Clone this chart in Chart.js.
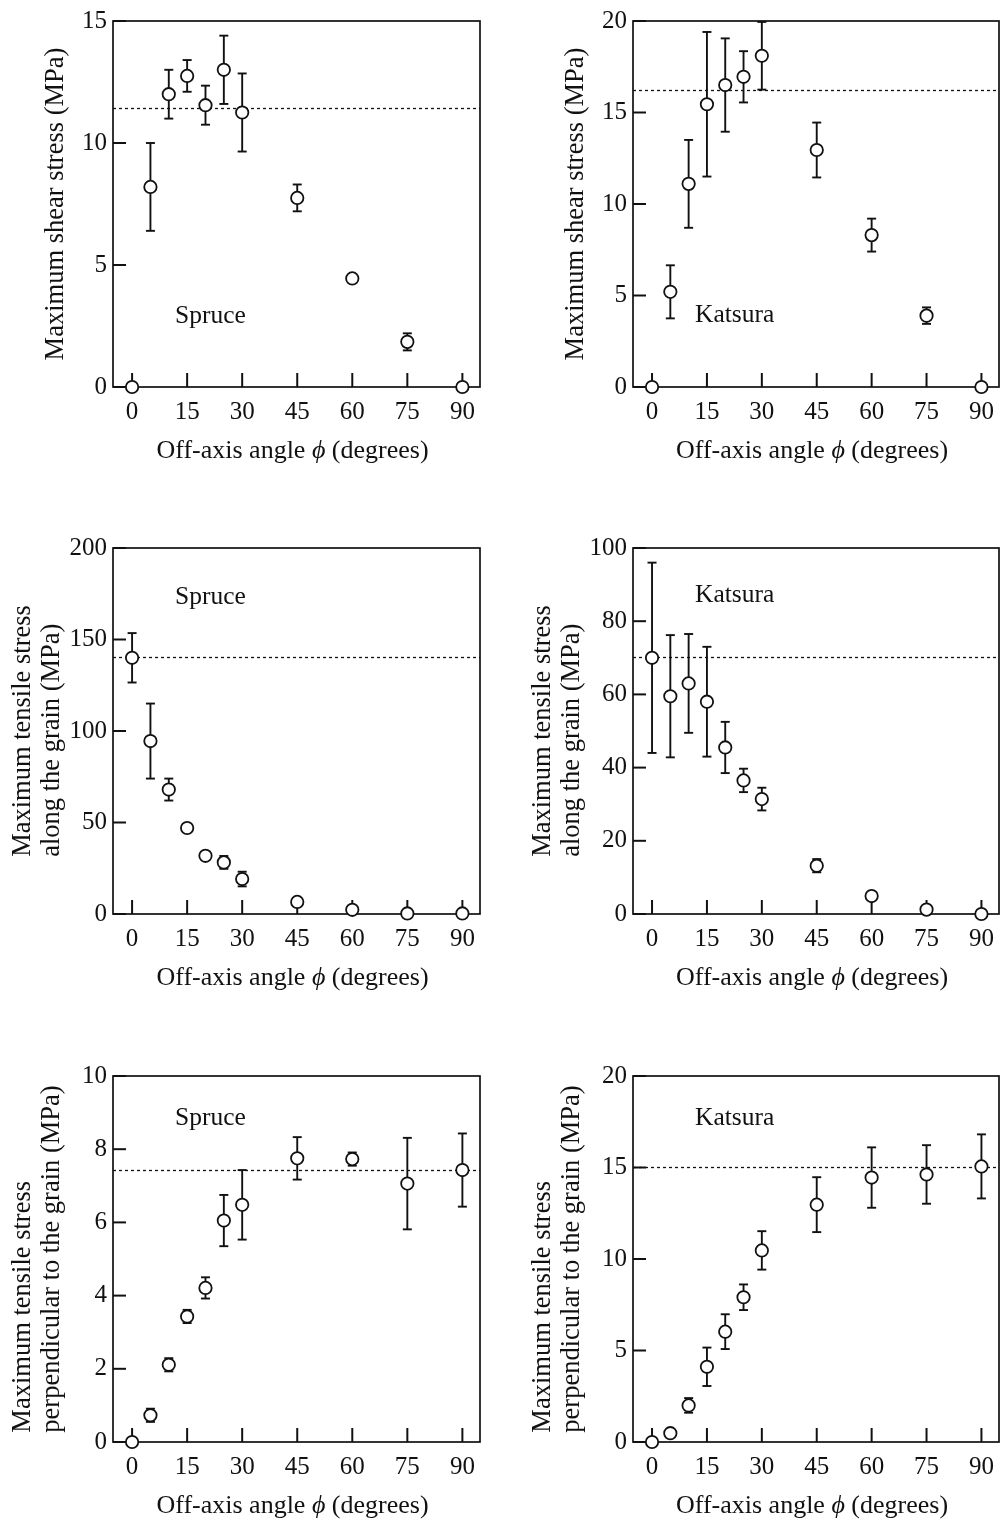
<!DOCTYPE html>
<html>
<head>
<meta charset="utf-8">
<script src="https://cdn.jsdelivr.net/npm/chart.js@4.4.0/dist/chart.umd.min.js"></script>
<style>
  body { margin: 0; background: #fff; }
  .panel { position: absolute; }
</style>
</head>
<body>
<div class="panel" style="left:0;top:0"><canvas id="c1" width="490" height="471"></canvas></div>
<div class="panel" style="left:520px;top:0"><canvas id="c2" width="488" height="471"></canvas></div>
<div class="panel" style="left:0;top:527px"><canvas id="c3" width="490" height="471"></canvas></div>
<div class="panel" style="left:520px;top:527px"><canvas id="c4" width="488" height="471"></canvas></div>
<div class="panel" style="left:0;top:1055px"><canvas id="c5" width="490" height="471"></canvas></div>
<div class="panel" style="left:520px;top:1055px"><canvas id="c6" width="488" height="471"></canvas></div>
<script>
// off-axis angles (degrees)
const angles = [0, 5, 10, 15, 20, 25, 30, 45, 60, 75, 90];
const xTicks = [0, 15, 30, 45, 60, 75, 90];

// maximum shear stress (MPa)
const spruceShear    = [0, 8.2, 12.0, 12.75, 11.55, 13.0, 11.25, 7.75, 4.45, 1.85, 0];
const spruceShearErr = [0, 1.8, 1.0, 0.65, 0.8, 1.4, 1.6, 0.55, 0, 0.35, 0];
const katsuraShear    = [0, 5.2, 11.1, 15.45, 16.5, 16.95, 18.1, 12.95, 8.3, 3.9, 0];
const katsuraShearErr = [0, 1.45, 2.4, 3.95, 2.55, 1.4, 1.85, 1.5, 0.9, 0.45, 0];

// maximum tensile stress along the grain (MPa)
const spruceAlong    = [140, 94.5, 68, 47, 31.8, 28.2, 19.1, 6.6, 2.3, 0.3, 0.3];
const spruceAlongErr = [13.5, 20.5, 6, 0, 0, 3.5, 4, 0, 0, 0, 0];
const katsuraAlong    = [70, 59.5, 63, 58, 45.5, 36.5, 31.4, 13.2, 4.9, 1.2, 0];
const katsuraAlongErr = [26, 16.7, 13.5, 15, 7, 3.2, 3.1, 1.8, 0, 0, 0];

// maximum tensile stress perpendicular to the grain (MPa)
const spruceCross    = [0, 0.73, 2.11, 3.43, 4.21, 6.05, 6.48, 7.75, 7.73, 7.06, 7.43];
const spruceCrossErr = [0, 0.18, 0.18, 0.18, 0.29, 0.7, 0.95, 0.58, 0.18, 1.25, 1.0];
const katsuraCross    = [0, 0.48, 2.0, 4.11, 6.03, 7.91, 10.47, 12.97, 14.45, 14.62, 15.06];
const katsuraCrossErr = [0, 0, 0.4, 1.05, 0.95, 0.7, 1.05, 1.5, 1.65, 1.6, 1.75];

// dotted reference levels
const refLevels = [11.45, 16.22, 140.2, 70.1, 7.42, 15.03];

// y tick labels per panel
const shearSpruceTicks  = [0, 5, 10, 15];
const shearKatsuraTicks = [0, 5, 10, 15, 20];
const alongSpruceTicks  = [0, 50, 100, 150, 200];
const alongKatsuraTicks = [0, 20, 40, 60, 80, 100];
const crossSpruceTicks  = [0, 2, 4, 6, 8, 10];
const crossKatsuraTicks = [0, 5, 10, 15, 20];

const ink = '#111111';
const serif = '"Liberation Serif", "Times New Roman", serif';

const panels = [
    { id: 'c1', values: spruceShear, errors: spruceShearErr, yTicks: shearSpruceTicks, ref: refLevels[0],
      name: 'Spruce', nameY: 2.9, title: ['Maximum shear stress (MPa)'], right: 10 },
    { id: 'c2', values: katsuraShear, errors: katsuraShearErr, yTicks: shearKatsuraTicks, ref: refLevels[1],
      name: 'Katsura', nameY: 3.9, title: ['Maximum shear stress (MPa)'], right: 9 },
    { id: 'c3', values: spruceAlong, errors: spruceAlongErr, yTicks: alongSpruceTicks, ref: refLevels[2],
      name: 'Spruce', nameY: 173, title: ['Maximum tensile stress', 'along the grain (MPa)'], right: 10 },
    { id: 'c4', values: katsuraAlong, errors: katsuraAlongErr, yTicks: alongKatsuraTicks, ref: refLevels[3],
      name: 'Katsura', nameY: 87, title: ['Maximum tensile stress', 'along the grain (MPa)'], right: 9 },
    { id: 'c5', values: spruceCross, errors: spruceCrossErr, yTicks: crossSpruceTicks, ref: refLevels[4],
      name: 'Spruce', nameY: 8.85, title: ['Maximum tensile stress', 'perpendicular to the grain (MPa)'], right: 10 },
    { id: 'c6', values: katsuraCross, errors: katsuraCrossErr, yTicks: crossKatsuraTicks, ref: refLevels[5],
      name: 'Katsura', nameY: 17.7, title: ['Maximum tensile stress', 'perpendicular to the grain (MPa)'], right: 9 }
];

function strokeLine(ctx, x1, y1, x2, y2) {
    ctx.beginPath();
    ctx.moveTo(x1, y1);
    ctx.lineTo(x2, y2);
    ctx.stroke();
}

const decor = {
    id: 'decor',
    beforeDatasetsDraw(chart) {
        const { ctx, chartArea: a, scales: { x, y } } = chart;
        const p = chart.options.plugins.decor.panel;
        ctx.save();
        ctx.strokeStyle = ink;
        ctx.lineWidth = 1.7;
        ctx.strokeRect(a.left, a.top, a.right - a.left, a.bottom - a.top);

        // reference level
        ctx.save();
        ctx.lineWidth = 1.3;
        ctx.setLineDash([3, 3]);
        const ry = Math.round(y.getPixelForValue(p.ref)) + 0.5;
        strokeLine(ctx, a.left, ry, a.right, ry);
        ctx.restore();

        // error bars
        ctx.lineWidth = 1.9;
        const meta = chart.getDatasetMeta(0);
        meta.data.forEach((pt, i) => {
            const err = p.errors[i];
            if (!err) return;
            const v = p.values[i];
            const top = y.getPixelForValue(v + err);
            const bot = y.getPixelForValue(Math.max(v - err, y.min));
            strokeLine(ctx, pt.x, top, pt.x, bot);
            strokeLine(ctx, pt.x - 4.5, top, pt.x + 4.5, top);
            if (v - err >= y.min) strokeLine(ctx, pt.x - 4.5, bot, pt.x + 4.5, bot);
        });

        // ticks point inward
        ctx.lineWidth = 2;
        const yt = Array.from(p.yTicks);
        for (let k = 0; k < yt.length; k++) {
            const py = y.getPixelForValue(yt[k]);
            strokeLine(ctx, a.left, py, a.left + 13, py);
        }
        for (let k = 0; k < xTicks.length; k++) {
            const px = x.getPixelForValue(xTicks[k]);
            strokeLine(ctx, px, a.bottom, px, a.bottom - 14);
        }

        // species name
        ctx.fillStyle = ink;
        ctx.font = `25.5px ${serif}`;
        ctx.textBaseline = 'middle';
        ctx.textAlign = 'left';
        ctx.fillText(p.name, a.left + 62, y.getPixelForValue(p.nameY));
        ctx.restore();
    },
    afterDraw(chart) {
        const { ctx, chartArea: a } = chart;
        const p = chart.options.plugins.decor.panel;
        ctx.save();
        ctx.fillStyle = ink;
        ctx.textBaseline = 'middle';

        // x title with italic phi
        const plain = `26px ${serif}`, ital = `italic 26px ${serif}`;
        const parts = [['Off-axis angle ', plain], ['\u03D5', ital], [' (degrees)', plain]];
        let total = 0;
        parts.forEach(([s, f]) => { ctx.font = f; total += ctx.measureText(s).width; });
        let tx = (a.left + a.right) / 2 - 4 - total / 2;
        const ty = a.bottom + 64;
        ctx.textAlign = 'left';
        parts.forEach(([s, f]) => {
            ctx.font = f;
            ctx.fillText(s, tx, ty);
            tx += ctx.measureText(s).width;
        });

        // y title, rotated, lines start-aligned
        ctx.font = `26.5px ${serif}`;
        const widest = Math.max(...p.title.map(s => ctx.measureText(s).width));
        const cx = p.title.length > 1 ? a.left - 90 : a.left - 57;
        const cy = (a.top + a.bottom) / 2;
        ctx.translate(cx, cy);
        ctx.rotate(-Math.PI / 2);
        p.title.forEach((s, i) => ctx.fillText(s, -widest / 2, i * 29));
        ctx.restore();
    }
};

panels.forEach(p => {
    const ctx = document.getElementById(p.id).getContext('2d');
    const tickFont = { family: serif, size: 25 };
    new Chart(ctx, {
        type: 'scatter',
        data: {
            datasets: [{
                data: angles.map((a, i) => ({ x: a, y: p.values[i] })),
                pointRadius: 6.2,
                pointHoverRadius: 6.2,
                pointBackgroundColor: '#ffffff',
                pointBorderColor: ink,
                pointBorderWidth: 1.8,
                clip: false
            }]
        },
        options: {
            responsive: false,
            animation: false,
            layout: { padding: { top: 15, right: p.right, bottom: 0, left: 0 } },
            plugins: {
                legend: { display: false },
                tooltip: { enabled: false },
                decor: { panel: p }
            },
            scales: {
                x: {
                    type: 'linear',
                    min: -5.2,
                    max: 94.8,
                    grid: { display: false, drawTicks: false },
                    border: { display: false },
                    ticks: { font: tickFont, color: ink, padding: 10, maxRotation: 0, autoSkip: false },
                    afterBuildTicks: s => { s.ticks = xTicks.map(v => ({ value: v })); },
                    afterFit: s => { s.height = 84; }
                },
                y: {
                    min: p.yTicks[0],
                    max: p.yTicks[p.yTicks.length - 1],
                    grid: { display: false, drawTicks: false },
                    border: { display: false },
                    ticks: { font: tickFont, color: ink, padding: 6, autoSkip: false },
                    afterBuildTicks: s => { s.ticks = p.yTicks.map(v => ({ value: v })); },
                    afterFit: s => { s.width = 113; }
                }
            }
        },
        plugins: [decor]
    });
});
</script>
</body>
</html>
